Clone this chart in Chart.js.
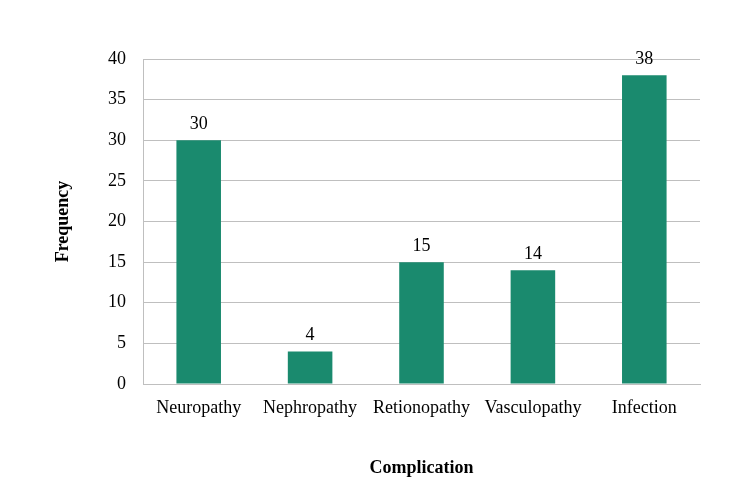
<!DOCTYPE html>
<html>
<head>
<meta charset="utf-8">
<script src="https://cdn.jsdelivr.net/npm/chart.js@4.4.0/dist/chart.umd.min.js"></script>
<style>
  body { margin: 0; background: #fff; }
</style>
</head>
<body>
<canvas id="bar" width="750" height="504"></canvas>
<script>
const complications = ["Neuropathy", "Nephropathy", "Retionopathy", "Vasculopathy", "Infection"];
const frequency = [30, 4, 15, 14, 38];

const fontFamily = "'Liberation Serif', 'Times New Roman', serif";

// numbers above each bar
const valueLabels = {
  id: "valueLabels",
  afterDatasetsDraw(chart) {
    const c = chart.ctx;
    const meta = chart.getDatasetMeta(0);
    c.save();
    c.font = "18px " + fontFamily;
    c.fillStyle = "#000";
    c.textAlign = "center";
    c.textBaseline = "bottom";
    meta.data.forEach((bar, i) => {
      c.fillText(frequency[i], bar.x, bar.y - 7);
    });
    c.restore();
  },
};

const ctx = document.getElementById("bar");

new Chart(ctx, {
  type: "bar",
  data: {
    labels: complications,
    datasets: [
      {
        label: "Frequency",
        data: frequency,
        backgroundColor: "#1a8a6e",
        categoryPercentage: 1,
        barPercentage: 0.4,
      },
    ],
  },
  options: {
    responsive: false,
    animation: false,
    layout: { padding: { top: 59, right: 50, left: 0, bottom: 0 } },
    plugins: {
      legend: { display: false },
      tooltip: { enabled: false },
    },
    scales: {
      x: {
        grid: { display: false, drawTicks: false },
        border: { color: "#bfbfbf", width: 1 },
        ticks: { color: "#000", font: { family: fontFamily, size: 18 }, padding: 13, maxRotation: 0 },
        title: {
          display: true,
          text: "Complication",
          color: "#000",
          font: { family: fontFamily, size: 18, weight: "bold" },
          padding: { top: 0, bottom: 25 },
        },
        afterFit(scale) {
          scale.height = 120;
        },
      },
      y: {
        min: 0,
        max: 40,
        ticks: { stepSize: 5, color: "#000", font: { family: fontFamily, size: 18 }, padding: 17 },
        grid: { color: "#bfbfbf", drawTicks: false },
        border: { color: "#bfbfbf", width: 1 },
        title: {
          display: true,
          text: "Frequency",
          color: "#000",
          font: { family: fontFamily, size: 18, weight: "bold" },
          padding: { top: 53, bottom: 0 },
        },
        afterFit(scale) {
          scale.width = 143;
        },
      },
    },
  },
  plugins: [valueLabels],
});
</script>
</body>
</html>
